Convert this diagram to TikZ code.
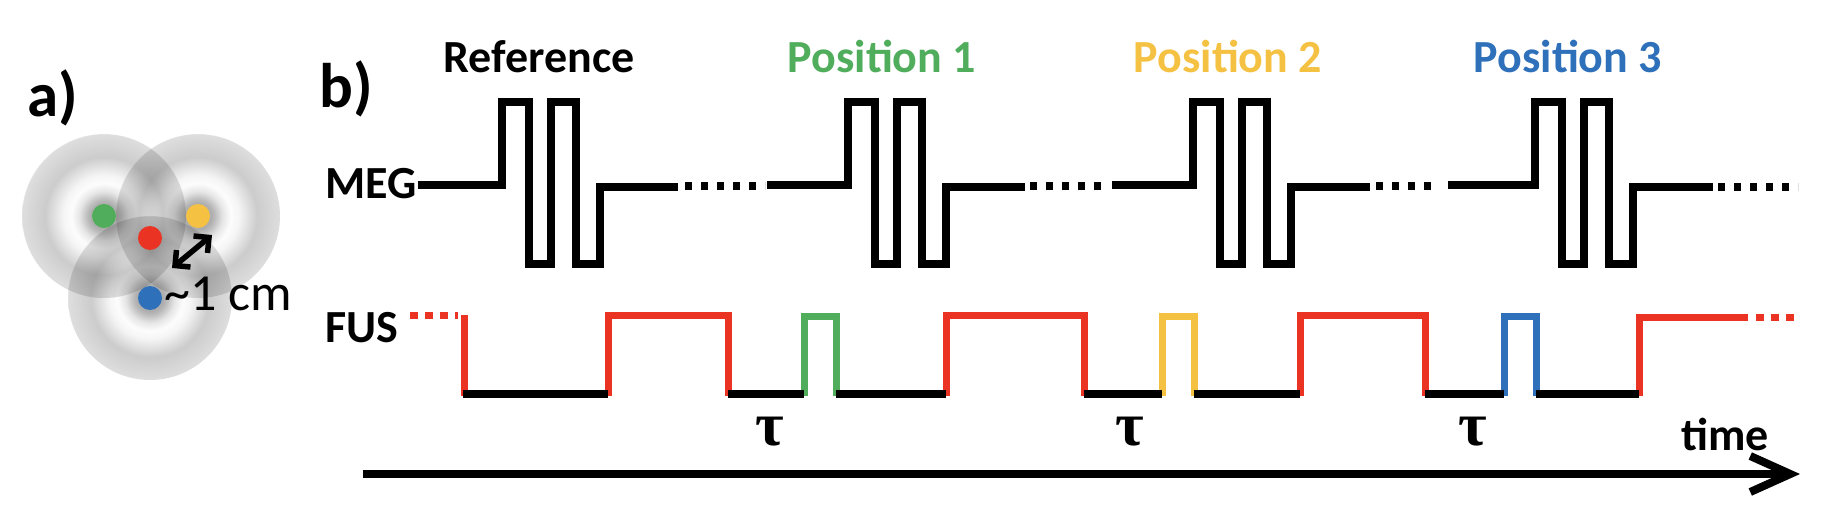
\documentclass[tikz,border=0pt]{standalone}
\usepackage{fontspec}
\setmainfont{Carlito}
\newfontfamily\taufont{Liberation Serif}
\usetikzlibrary{arrows.meta}
\definecolor{cred}{HTML}{EA3323}
\definecolor{cgreen}{HTML}{50AD5C}
\definecolor{cyellow}{HTML}{F5C142}
\definecolor{cblue}{HTML}{2E70BA}
\definecolor{rp0}{gray}{0.64}
\definecolor{rp1}{gray}{0.68}
\definecolor{rp2}{gray}{0.73}
\definecolor{rp3}{gray}{0.90}
\definecolor{rp4}{gray}{0.99}
\definecolor{rp5}{gray}{0.96}
\definecolor{rp6}{gray}{0.80}
\definecolor{rp7}{gray}{0.87}
\pgfdeclareradialshading{ripple}{\pgfpoint{0bp}{0bp}}{%
  color(0bp)=(rp0); color(4bp)=(rp1); color(5bp)=(rp2); color(7.5bp)=(rp3);
  color(10bp)=(rp4); color(12.5bp)=(rp5); color(18bp)=(rp6); color(25bp)=(rp7);
  color(25.5bp)=(white); color(50bp)=(white)}
\newcommand\megseg[3]{\draw[megline] (#1,185) -- (#2,185) -- (#2,102) -- ({#2+27},102) -- ({#2+27},264) -- ({#2+49},264) -- ({#2+49},102) -- ({#2+74},102) -- ({#2+74},264) -- ({#2+98},264) -- ({#2+98},187) -- (#3,187);}
\begin{document}
\begin{tikzpicture}[x=1pt,y=-1pt,
  lbl/.style={font=\bfseries\fontsize{46}{55}\selectfont, inner sep=0pt},
  big/.style={font=\bfseries\fontsize{63}{70}\selectfont, inner sep=0pt},
  megline/.style={line width=7.5pt, line cap=butt, line join=miter},
  megdots/.style={line width=7.5pt, dash pattern=on 7pt off 9pt},
  fusline/.style={line width=7pt, line cap=butt, line join=miter},
  fusblack/.style={line width=8pt, line cap=butt},
  fusdots/.style={line width=7pt, cred, dash pattern=on 8pt off 7pt},
  ring/.style={shading=ripple, blend mode=multiply},
  taulbl/.style={font=\taufont\bfseries\fontsize{62}{70}\selectfont, inner sep=0pt}
]
\path[fill=white] (0,0) rectangle (1838,516);
\useasboundingbox (0,0) rectangle (1838,516);

% ---- panel a ----
\node[big, anchor=base west] (la) at (27,117) {a)};
\shade[ring] (104,216) circle (82);
\shade[ring] (198,216) circle (82);
\shade[ring] (150,298) circle (82);
\fill[cgreen] (104,216) circle (12);
\fill[cyellow] (198,216) circle (12);
\fill[cred] (150,238) circle (12);
\fill[cblue] (150,298) circle (12);
\coordinate (d0) at (172,268);
\coordinate (d1) at (212,235);
\draw[line width=5.5pt, {Straight Barb[length=11pt,width=22pt]}-{Straight Barb[length=11pt,width=22pt]}] (d0) -- (d1);
\node[anchor=base west, inner sep=0pt, font=\fontsize{52}{60}\selectfont] (cm) at (164,310) {\textasciitilde 1 cm};

% ---- panel b ----
\node[big, anchor=base west] (lb) at (319,108) {b)};
\node[lbl, anchor=base] (tref) at (539,73) {Reference};
\node[lbl, anchor=base, text=cgreen] (tp1) at (882,73) {Position 1};
\node[lbl, anchor=base, text=cyellow] (tp2) at (1228,73) {Position 2};
\node[lbl, anchor=base, text=cblue] (tp3) at (1568,73) {Position 3};
\node[lbl, anchor=base east] (meg) at (417,198) {MEG};
\node[lbl, anchor=base west] (fus) at (325,342) {FUS};

% MEG trace
\megseg{418}{502}{678}
\draw[megdots] (685,186) -- (765,186);
\megseg{767}{848}{1025}
\draw[megdots] (1030,186) -- (1110,186);
\megseg{1112}{1193}{1370}
\draw[megdots] (1376,186) -- (1440,186);
\megseg{1448}{1535}{1713}
\draw[megdots] (1718,187) -- (1798,187);

% FUS trace
\draw[fusdots] (410,315) -- (458,315);
\draw[fusline, cred] (464,315) -- (464,396);
\draw[fusline, cred] (608,396) -- (608,315) -- (728,315) -- (728,396);
\draw[fusline, cgreen] (804,396) -- (804,316) -- (836,316) -- (836,396);
\draw[fusline, cred] (946,396) -- (946,315) -- (1084,315) -- (1084,396);
\draw[fusline, cyellow] (1162,396) -- (1162,316) -- (1194,316) -- (1194,396);
\draw[fusline, cred] (1300,396) -- (1300,315) -- (1425,315) -- (1425,396);
\draw[fusline, cblue] (1504,396) -- (1504,316) -- (1536,316) -- (1536,396);
\draw[fusline, cred] (1639,396) -- (1639,317) -- (1748,317);
\draw[fusdots] (1756,317) -- (1796,317);
\draw[fusblack] (463,394) -- (608,394);
\draw[fusblack] (728,394) -- (804,394);
\draw[fusblack] (836,394) -- (946,394);
\draw[fusblack] (1084,394) -- (1162,394);
\draw[fusblack] (1194,394) -- (1300,394);
\draw[fusblack] (1425,394) -- (1504,394);
\draw[fusblack] (1536,394) -- (1639,394);

% tau labels
\node[taulbl] (tau1) at (770,432) {τ};
\node[taulbl] (tau2) at (1130,432) {τ};
\node[taulbl] (tau3) at (1473,432) {τ};

% time axis
\node[lbl, anchor=base west] (time) at (1681,450) {time};
\coordinate (t0) at (363,474);
\coordinate (t1) at (1800,474);
\draw[line width=8pt, -{Straight Barb[length=40pt,width=36pt]}] (t0) -- (t1);
\end{tikzpicture}
\end{document}
